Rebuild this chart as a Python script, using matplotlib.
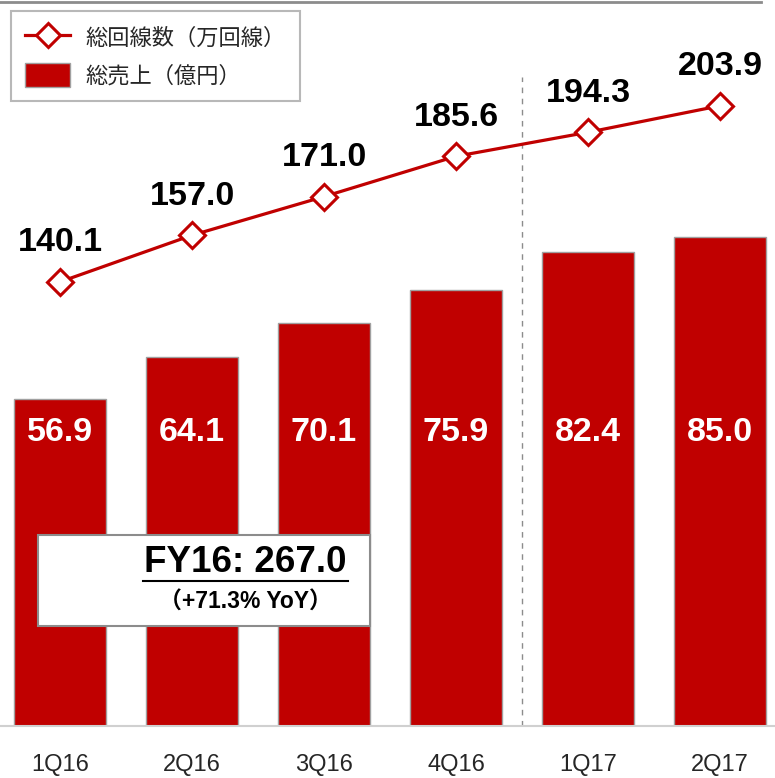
import numpy as np
import matplotlib
matplotlib.use("Agg")
from matplotlib import pyplot as plt
from matplotlib.lines import Line2D
from matplotlib.patches import Patch, Rectangle

plt.rcParams['font.family'] = ['Liberation Sans', 'Noto Sans CJK JP', 'DejaVu Sans']

quarters = ['1Q16', '2Q16', '3Q16', '4Q16', '1Q17', '2Q17']
sales = [56.9, 64.1, 70.1, 75.9, 82.4, 85.0]        # 総売上（億円）
lines_total = [140.1, 157.0, 171.0, 185.6, 194.3, 203.9]  # 総回線数（万回線）
fy_title = 'FY16: 267.0'
fy_sub = '（+71.3% YoY）'

red = '#C00000'
W, H = 775, 778

fig = plt.figure(figsize=(W / 100, H / 100), dpi=100)
ax = fig.add_axes([0, 52 / H, 1, 724 / H])
x = np.arange(len(quarters))

# bars
ax.bar(x, sales, width=0.69, color=red, edgecolor='#a0a0a0', linewidth=1, zorder=2)
for xi, v in zip(x, sales):
    ax.text(xi, 51.0, '%.1f' % v, ha='center', va='center', color='white',
            fontsize=24.5, fontweight='bold', zorder=3)
ax.set_xlim(-60 / 132, (W - 60) / 132)
ax.set_ylim(0, 125.9)
ax.set_yticks([])
ax.set_xticks(x)
ax.set_xticklabels(quarters)
ax.tick_params(axis='x', length=0, pad=20, labelsize=17, labelcolor='#262626')
for s in ['left', 'right']:
    ax.spines[s].set_visible(False)
ax.spines['bottom'].set_color('#d0d0d0')
ax.spines['bottom'].set_linewidth(1.5)
ax.spines['top'].set_color('#8c8c8c')
ax.spines['top'].set_linewidth(2)
ax.spines['top'].set_bounds(-60 / 132, (761 - 60) / 132)

# year divider
ax.vlines(3.5, 0, 112.9, colors='#8c8c8c', linestyles=(0, (4, 4)), linewidth=1, zorder=1)

# line on secondary axis
ax2 = ax.twinx()
ax2.set_ylim(-20.8, 241.5)
ax2.set_yticks([])
for s in ax2.spines.values():
    s.set_visible(False)
ax2.plot(x, lines_total, color=red, lw=2.3, marker='D', ms=13, mfc='white',
         mec=red, mew=2.2, zorder=3)
for xi, v in zip(x, lines_total):
    ax2.annotate('%.1f' % v, (xi, v), xytext=(0, 28), textcoords='offset points',
                 ha='center', va='center', fontsize=24.5, fontweight='bold', color='black')

# legend
handles = [Line2D([], [], color=red, lw=2.3, marker='D', ms=12, mfc='white', mec=red, mew=2.2),
           Patch(facecolor=red, edgecolor='#a0a0a0')]
leg = fig.legend(handles, ['総回線数（万回線）', '総売上（億円）'], loc='upper left',
                 bbox_to_anchor=(11 / W, 1 - 11 / H), borderaxespad=0, fancybox=False,
                 prop={'family': ['Noto Sans CJK JP'], 'size': 16}, handlelength=2.05,
                 handleheight=1.3, labelspacing=0.62, borderpad=0.62, handletextpad=0.7)
leg.get_frame().set_edgecolor('#a6a6a6')
leg.get_frame().set_linewidth(1.5)
for t in leg.get_texts():
    t.set_color('#262626')

# FY16 box
fig.add_artist(Rectangle((38 / W, 1 - 626 / H), 332 / W, 91 / H, transform=fig.transFigure,
                         facecolor='white', edgecolor='#8c8c8c', linewidth=1.5, zorder=5))
fig.text(245 / W, 1 - 563 / H, fy_title, ha='center', va='center', fontsize=26.5,
         fontweight='bold', color='black', zorder=6)
fig.add_artist(Line2D([143 / W, 348 / W], [1 - 581 / H, 1 - 581 / H], transform=fig.transFigure,
                      color='black', lw=1.5, zorder=6))
fig.text(245 / W, 1 - 602 / H, fy_sub, ha='center', va='center', fontsize=16.5,
         fontweight='bold', color='black', zorder=6)

fig.savefig('out.png', dpi=100)
